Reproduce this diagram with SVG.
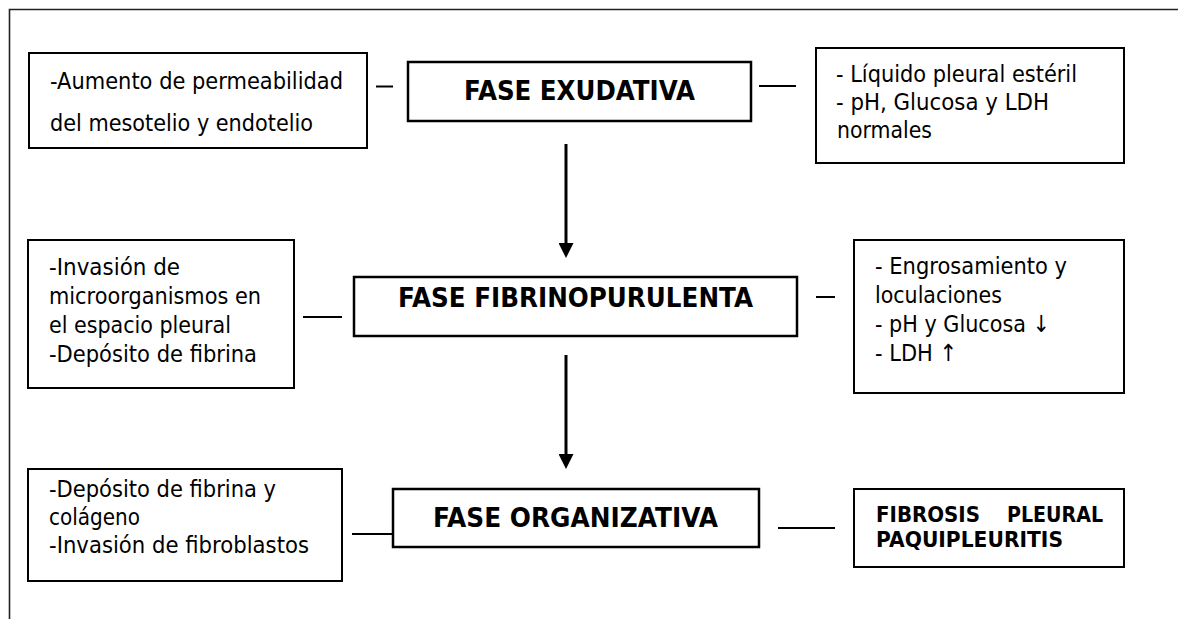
<svg xmlns="http://www.w3.org/2000/svg" width="1178" height="619" viewBox="0 0 1178 619">
<style>
.box{fill:#fff;stroke:#000;stroke-width:2}
.hbox{fill:#fff;stroke:#000;stroke-width:2.5}
.t{font-family:"DejaVu Sans","Verdana",sans-serif;font-size:23.5px;fill:#000}
.h{font-family:"DejaVu Sans","Verdana",sans-serif;font-size:26px;font-weight:bold;fill:#000}
.b{font-family:"DejaVu Sans","Verdana",sans-serif;font-size:20.5px;font-weight:bold;fill:#000}
.dash{stroke:#000;stroke-width:2;fill:none}
.arrow{stroke:#000;stroke-width:3;fill:none;marker-end:url(#ah)}
.frame{stroke:#222;stroke-width:1.6;fill:none}
</style>
<defs>
<marker id="ah" markerUnits="userSpaceOnUse" markerWidth="15" markerHeight="15" viewBox="0 0 15 15" refX="5" refY="7.5" orient="auto">
<path d="M0,0 L15,7.5 L0,15 Z" fill="#000"/>
</marker>
</defs>
<rect width="1178" height="619" fill="#fff"/>
<path class="frame" d="M9.5,619 L9.5,9.5 L1178,9.5"/>

<g id="connectors">
<line class="dash" x1="376" y1="86.5" x2="393" y2="86.5"/>
<line class="dash" x1="759" y1="86" x2="796" y2="86"/>
<line class="arrow" x1="566" y1="144" x2="566" y2="248"/>
<line class="dash" x1="303" y1="317" x2="342" y2="317"/>
<line class="dash" x1="816" y1="297" x2="835" y2="297"/>
<line class="arrow" x1="566" y1="355" x2="566" y2="459"/>
<line class="dash" x1="352" y1="534" x2="392" y2="534"/>
<line class="dash" x1="778" y1="528" x2="835" y2="528"/>
</g>

<g id="exudativa-causa">
<rect class="box" x="29" y="53" width="338" height="95"/>
<text class="t" x="50" y="89" textLength="293" lengthAdjust="spacingAndGlyphs">-Aumento de permeabilidad</text>
<text class="t" x="50" y="131" textLength="263" lengthAdjust="spacingAndGlyphs">del mesotelio y endotelio</text>
</g>

<g id="fase-exudativa">
<rect class="hbox" x="408" y="62" width="343" height="59"/>
<text class="h" x="464" y="99.5" textLength="231" lengthAdjust="spacingAndGlyphs">FASE EXUDATIVA</text>
</g>

<g id="exudativa-hallazgos">
<rect class="box" x="816" y="48" width="308" height="115"/>
<text class="t" x="836" y="82" textLength="241" lengthAdjust="spacingAndGlyphs">- Líquido pleural estéril</text>
<text class="t" x="836" y="110" textLength="213" lengthAdjust="spacingAndGlyphs">- pH, Glucosa y LDH</text>
<text class="t" x="837" y="138" textLength="95" lengthAdjust="spacingAndGlyphs">normales</text>
</g>

<g id="fibrinopurulenta-causa">
<rect class="box" x="28" y="240" width="266" height="148"/>
<text class="t" x="49" y="275" textLength="131" lengthAdjust="spacingAndGlyphs">-Invasión de</text>
<text class="t" x="49" y="304" textLength="212" lengthAdjust="spacingAndGlyphs">microorganismos en</text>
<text class="t" x="49" y="332.5" textLength="182" lengthAdjust="spacingAndGlyphs">el espacio pleural</text>
<text class="t" x="49" y="361.5" textLength="208" lengthAdjust="spacingAndGlyphs">-Depósito de fibrina</text>
</g>

<g id="fase-fibrinopurulenta">
<rect class="hbox" x="354" y="277" width="443" height="59"/>
<text class="h" x="398" y="307" textLength="355" lengthAdjust="spacingAndGlyphs">FASE FIBRINOPURULENTA</text>
</g>

<g id="fibrinopurulenta-hallazgos">
<rect class="box" x="854" y="240" width="270" height="153"/>
<text class="t" x="875" y="274" textLength="192" lengthAdjust="spacingAndGlyphs">- Engrosamiento y</text>
<text class="t" x="875" y="303" textLength="127" lengthAdjust="spacingAndGlyphs">loculaciones</text>
<text class="t" x="875" y="332" textLength="175" lengthAdjust="spacingAndGlyphs">- pH y Glucosa ↓</text>
<text class="t" x="875" y="361" textLength="82" lengthAdjust="spacingAndGlyphs">- LDH ↑</text>
</g>

<g id="organizativa-causa">
<rect class="box" x="28" y="469" width="314" height="112"/>
<text class="t" x="49" y="497" textLength="227" lengthAdjust="spacingAndGlyphs">-Depósito de fibrina y</text>
<text class="t" x="49" y="525" textLength="91" lengthAdjust="spacingAndGlyphs">colágeno</text>
<text class="t" x="49" y="553" textLength="260" lengthAdjust="spacingAndGlyphs">-Invasión de fibroblastos</text>
</g>

<g id="fase-organizativa">
<rect class="hbox" x="393" y="489" width="366" height="58"/>
<text class="h" x="433" y="527" textLength="285" lengthAdjust="spacingAndGlyphs">FASE ORGANIZATIVA</text>
</g>

<g id="organizativa-resultado">
<rect class="box" x="854" y="489" width="270" height="78"/>
<text class="b" x="876" y="521.5" textLength="104" lengthAdjust="spacingAndGlyphs">FIBROSIS</text>
<text class="b" x="1007" y="521.5" textLength="96" lengthAdjust="spacingAndGlyphs">PLEURAL</text>
<text class="b" x="876" y="546.5" textLength="187" lengthAdjust="spacingAndGlyphs">PAQUIPLEURITIS</text>
</g>
</svg>
